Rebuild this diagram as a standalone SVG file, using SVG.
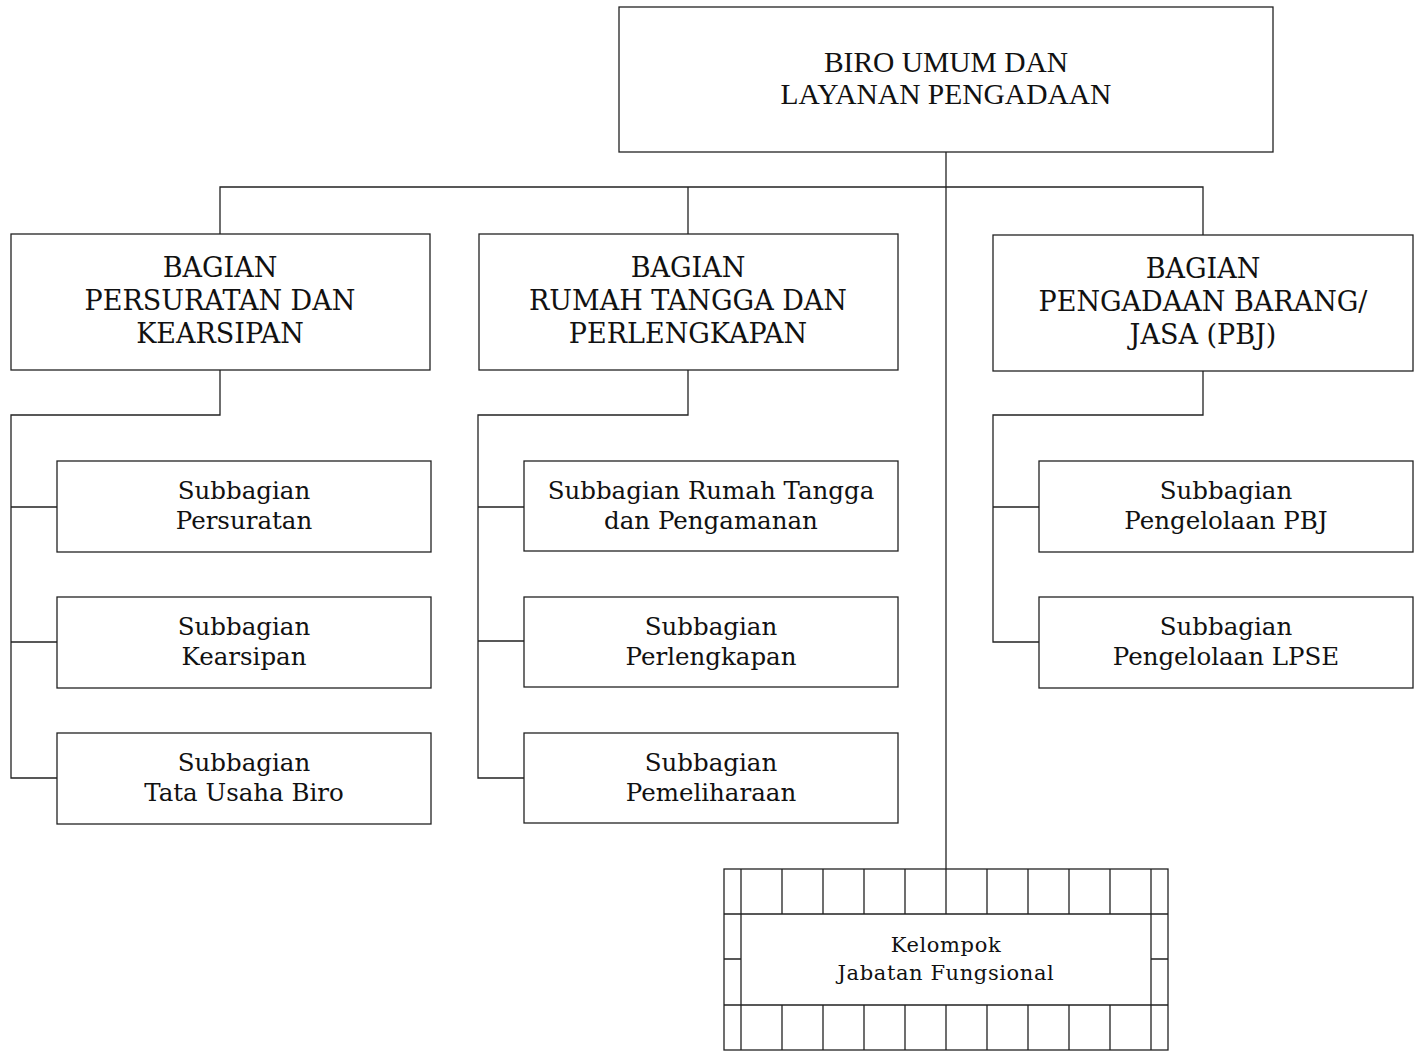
<svg xmlns="http://www.w3.org/2000/svg" width="1424" height="1051" viewBox="0 0 1424 1051">
<style>
.box{fill:#fff;stroke:#222;stroke-width:1.3}
.ln{fill:none;stroke:#222;stroke-width:1.3}
.t{font-family:"DejaVu Serif","Liberation Serif",serif;fill:#111;text-anchor:middle}
.h{font-size:27px}
.s{font-size:24.5px}
.k{font-size:21px;letter-spacing:0.6px}
.top{font-family:"Liberation Serif",serif;font-size:29.5px;fill:#111;text-anchor:middle}
</style>
<rect width="1424" height="1051" fill="#fff"/>
<g id="connectors" class="ln">
<path d="M946 152V869"/>
<path d="M220 234V187H1203V235M688 187V234"/>
<path d="M220 370V415H11V778H57M11 507H57M11 642H57"/>
<path d="M688 370V415H478V778H524M478 507H524M478 641H524"/>
<path d="M1203 371V415H993V642H1039M993 507H1039"/>
</g>
<g id="biro"><rect class="box" x="619" y="7" width="654" height="145"/>
<text class="top" x="946" y="72">BIRO UMUM DAN</text><text class="top" x="946" y="104">LAYANAN PENGADAAN</text></g>
<g id="bagian1"><rect class="box" x="11" y="234" width="419" height="136"/>
<text class="t h" x="220" y="277">BAGIAN</text><text class="t h" x="220" y="310">PERSURATAN DAN</text><text class="t h" x="220" y="343">KEARSIPAN</text></g>
<g id="bagian2"><rect class="box" x="479" y="234" width="419" height="136"/>
<text class="t h" x="688" y="277">BAGIAN</text><text class="t h" x="688" y="310">RUMAH TANGGA DAN</text><text class="t h" x="688" y="343">PERLENGKAPAN</text></g>
<g id="bagian3"><rect class="box" x="993" y="235" width="420" height="136"/>
<text class="t h" x="1203" y="278">BAGIAN</text><text class="t h" x="1203" y="311">PENGADAAN BARANG/</text><text class="t h" x="1203" y="344">JASA (PBJ)</text></g>
<g id="sub1"><rect class="box" x="57" y="461" width="374" height="91"/>
<text class="t s" x="244" y="499">Subbagian</text><text class="t s" x="244" y="529">Persuratan</text></g>
<g id="sub2"><rect class="box" x="57" y="597" width="374" height="91"/>
<text class="t s" x="244" y="635">Subbagian</text><text class="t s" x="244" y="665">Kearsipan</text></g>
<g id="sub3"><rect class="box" x="57" y="733" width="374" height="91"/>
<text class="t s" x="244" y="771">Subbagian</text><text class="t s" x="244" y="801">Tata Usaha Biro</text></g>
<g id="sub4"><rect class="box" x="524" y="461" width="374" height="90"/>
<text class="t s" x="711" y="499">Subbagian Rumah Tangga</text><text class="t s" x="711" y="529">dan Pengamanan</text></g>
<g id="sub5"><rect class="box" x="524" y="597" width="374" height="90"/>
<text class="t s" x="711" y="635">Subbagian</text><text class="t s" x="711" y="665">Perlengkapan</text></g>
<g id="sub6"><rect class="box" x="524" y="733" width="374" height="90"/>
<text class="t s" x="711" y="771">Subbagian</text><text class="t s" x="711" y="801">Pemeliharaan</text></g>
<g id="sub7"><rect class="box" x="1039" y="461" width="374" height="91"/>
<text class="t s" x="1226" y="499">Subbagian</text><text class="t s" x="1226" y="529">Pengelolaan PBJ</text></g>
<g id="sub8"><rect class="box" x="1039" y="597" width="374" height="91"/>
<text class="t s" x="1226" y="635">Subbagian</text><text class="t s" x="1226" y="665">Pengelolaan LPSE</text></g>
<g id="jabatan">
<rect class="box" x="724" y="869" width="444" height="181"/>
<path class="ln" d="M724 914H1168M724 1005H1168M724 959H741M1151 959H1168M741 869V1050M1151 869V1050M782 869V914M823 869V914M864 869V914M905 869V914M946 869V914M987 869V914M1028 869V914M1069 869V914M1110 869V914M782 1005V1050M823 1005V1050M864 1005V1050M905 1005V1050M946 1005V1050M987 1005V1050M1028 1005V1050M1069 1005V1050M1110 1005V1050"/>
<text class="t k" x="946" y="952">Kelompok</text><text class="t k" x="946" y="980">Jabatan Fungsional</text></g>
</svg>
